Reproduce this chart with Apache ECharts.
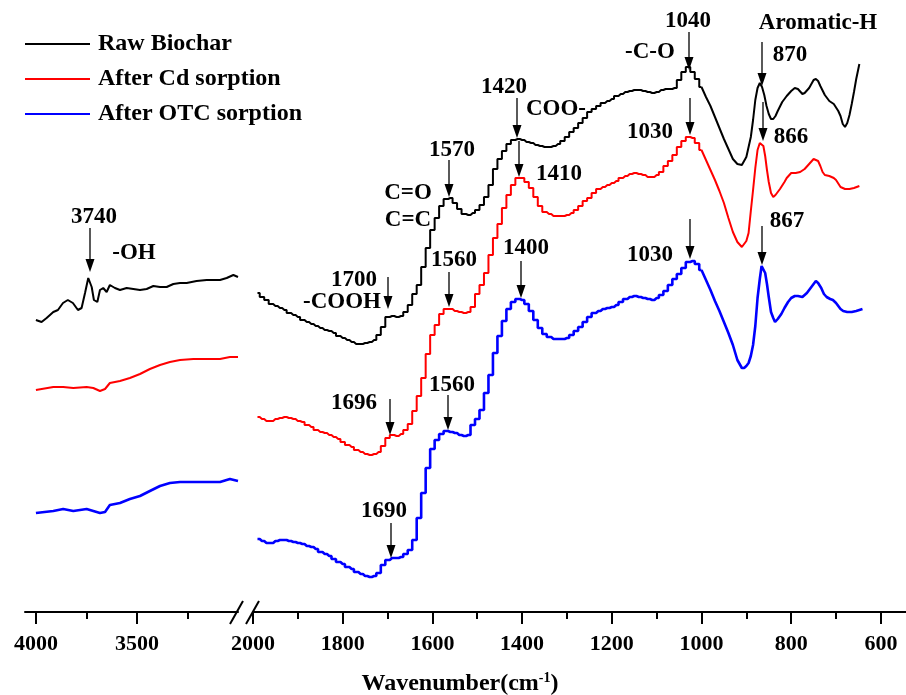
<!DOCTYPE html>
<html>
<head>
<meta charset="utf-8">
<script src="https://cdn.jsdelivr.net/npm/echarts@6/dist/echarts.min.js"></script>
<style>
html,body{margin:0;padding:0;background:#fff;}
#chart{width:906px;height:695px;}
</style>
</head>
<body>
<div id="chart"></div>
<script>
// ---------- DATA (transmittance, arbitrary units, offset spectra) ----------
const seriesNames = ['Raw Biochar', 'After Cd sorption', 'After OTC sorption'];

// 4000-3000 cm-1 segment
const wnLeftRaw = [4000,3972,3947,3914,3891,3866,3842,3817,3792,3774,3757,3741,3724,3713,3696,3683,3667,3650,3634,3609,3584,3551,3518,3485,3452,3419,3386,3353,3320,3287,3254,3205,3155,3089,3056,3023,3000];
const rawLeft = [2.92,2.90,2.94,3.00,3.02,3.09,3.12,3.09,3.02,3.04,3.19,3.34,3.25,3.12,3.10,3.22,3.24,3.20,3.27,3.24,3.22,3.24,3.23,3.22,3.23,3.26,3.25,3.25,3.28,3.29,3.29,3.31,3.32,3.32,3.34,3.37,3.35];
const wnLeft = [4000,3914,3865,3815,3749,3716,3683,3658,3634,3584,3535,3485,3436,3386,3337,3287,3221,3155,3089,3040,3000];
const cdLeft = [2.22,2.25,2.25,2.24,2.25,2.24,2.21,2.23,2.29,2.31,2.34,2.38,2.43,2.47,2.50,2.52,2.53,2.53,2.53,2.55,2.55];
const otcLeft = [0.99,1.01,1.03,1.01,1.03,1.01,0.99,1.00,1.07,1.09,1.13,1.16,1.21,1.26,1.29,1.30,1.30,1.30,1.30,1.33,1.31];

// 2000-1000 cm-1 segment (stepped, 10 cm-1 resolution)
const wnStep = [1990,1980,1970,1960,1950,1940,1930,1920,1910,1900,
  1890,1880,1870,1860,1850,1840,1830,1820,1810,1800,
  1790,1780,1770,1760,1750,1740,1730,1720,1710,1700,
  1690,1680,1670,1660,1650,1640,1630,1620,1610,1600,
  1590,1580,1570,1560,1550,1540,1530,1520,1510,1500,
  1490,1480,1470,1460,1450,1440,1430,1420,1410,1400,
  1390,1380,1370,1360,1350,1340,1330,1320,1310,1300,
  1290,1280,1270,1260,1250,1240,1230,1220,1210,1200,
  1190,1180,1170,1160,1150,1140,1130,1120,1110,1100,
  1090,1080,1070,1060,1050,1040,1030,1020,1010,1000];
const rawStep = [3.19,3.15,3.12,3.08,3.06,3.04,3.02,2.99,2.97,2.95,
  2.92,2.90,2.88,2.86,2.84,2.82,2.81,2.79,2.76,2.74,
  2.72,2.70,2.68,2.68,2.69,2.70,2.72,2.77,2.85,2.95,
  2.96,2.95,2.96,3.00,3.07,3.18,3.27,3.45,3.64,3.82,
  3.94,4.06,4.13,4.14,4.09,4.03,3.98,3.97,3.99,4.02,
  4.07,4.15,4.27,4.43,4.53,4.61,4.68,4.72,4.73,4.72,
  4.70,4.69,4.67,4.66,4.65,4.65,4.66,4.68,4.71,4.75,
  4.80,4.84,4.89,4.94,5.00,5.03,5.06,5.09,5.11,5.13,
  5.16,5.18,5.20,5.21,5.22,5.22,5.21,5.20,5.19,5.20,
  5.22,5.23,5.23,5.24,5.32,5.40,5.45,5.40,5.33,5.25];
const cdStep = [1.95,1.93,1.91,1.91,1.93,1.94,1.95,1.94,1.93,1.91,
  1.90,1.87,1.85,1.82,1.80,1.79,1.77,1.75,1.73,1.70,
  1.67,1.65,1.62,1.60,1.58,1.57,1.58,1.60,1.66,1.74,
  1.77,1.76,1.78,1.82,1.88,2.01,2.16,2.34,2.58,2.77,
  2.87,2.98,3.03,3.03,3.01,3.00,2.99,3.00,3.05,3.18,
  3.27,3.39,3.57,3.74,3.88,4.04,4.17,4.27,4.34,4.34,
  4.30,4.24,4.15,4.06,4.00,3.98,3.96,3.96,3.96,3.97,
  3.99,4.02,4.06,4.11,4.14,4.19,4.23,4.25,4.27,4.29,
  4.31,4.34,4.36,4.38,4.39,4.38,4.37,4.35,4.35,4.37,
  4.40,4.46,4.51,4.57,4.65,4.71,4.75,4.74,4.69,4.62];
const otcStep = [0.73,0.71,0.69,0.69,0.71,0.72,0.72,0.71,0.70,0.69,
  0.68,0.66,0.65,0.63,0.60,0.58,0.56,0.53,0.50,0.48,
  0.45,0.43,0.40,0.38,0.36,0.35,0.36,0.39,0.47,0.52,
  0.54,0.54,0.55,0.58,0.62,0.72,0.94,1.19,1.44,1.63,
  1.72,1.78,1.81,1.80,1.79,1.77,1.76,1.77,1.87,1.93,
  2.02,2.19,2.37,2.59,2.76,2.91,3.03,3.10,3.13,3.12,
  3.08,3.01,2.92,2.84,2.78,2.75,2.73,2.73,2.73,2.74,
  2.77,2.81,2.85,2.90,2.95,2.99,3.01,3.03,3.04,3.05,
  3.07,3.10,3.13,3.15,3.16,3.15,3.14,3.13,3.12,3.14,
  3.17,3.21,3.27,3.33,3.38,3.44,3.50,3.51,3.48,3.42];

// 1000-640 cm-1 segment (smooth)
const wnRawTail = [1000,990,980,970,960,950,940,930,920,910,900,890,885,880,875,870,865,860,855,850,845,840,835,830,820,810,800,792,785,775,770,760,750,745,740,735,725,715,705,695,690,685,680,675,670,665,660,655,648];
const rawTail = [5.25,5.15,5.06,4.95,4.84,4.73,4.63,4.53,4.48,4.47,4.55,4.75,4.92,5.12,5.24,5.29,5.25,5.17,5.06,4.98,4.93,4.93,4.96,5.01,5.10,5.16,5.21,5.24,5.23,5.18,5.19,5.24,5.32,5.33,5.31,5.26,5.17,5.11,5.08,5.01,4.96,4.88,4.85,4.89,4.97,5.08,5.20,5.33,5.48];
const wnCdTail = [1000,990,980,970,960,950,940,930,920,910,900,895,890,885,880,875,870,866,862,858,854,850,845,840,835,830,825,815,810,800,790,780,770,760,750,747,740,735,730,725,715,705,700,690,680,670,660,648];
const cdTail = [4.62,4.52,4.42,4.32,4.21,4.09,3.94,3.80,3.70,3.65,3.71,3.79,4.01,4.22,4.44,4.62,4.69,4.71,4.66,4.56,4.42,4.30,4.19,4.15,4.17,4.20,4.23,4.30,4.34,4.39,4.39,4.40,4.43,4.48,4.53,4.54,4.51,4.46,4.40,4.37,4.36,4.34,4.32,4.25,4.23,4.23,4.24,4.26];
const wnOtcTail = [1000,990,980,970,960,950,940,930,920,910,905,900,895,890,885,880,875,870,866,862,858,854,850,845,840,836,830,822,815,807,800,792,785,775,765,755,745,740,733,727,721,713,707,700,695,690,684,675,665,655,641];
const otcTail = [3.42,3.32,3.22,3.11,3.01,2.90,2.79,2.67,2.52,2.44,2.44,2.46,2.49,2.56,2.67,2.86,3.14,3.33,3.46,3.48,3.39,3.28,3.15,3.00,2.94,2.90,2.93,2.98,3.04,3.10,3.14,3.16,3.16,3.15,3.19,3.25,3.31,3.29,3.24,3.18,3.15,3.13,3.12,3.09,3.06,3.03,3.01,3.00,3.00,3.01,3.03];

// Tick labels
const leftMajorTicks = [4000, 3500];
const leftMinorTicks = [3750, 3250];
const rightMajorTicks = [2000, 1800, 1600, 1400, 1200, 1000, 800, 600];
const rightMinorTicks = [1900, 1700, 1500, 1300, 1100, 900, 700];

// ---------- CHART ----------
const FONT = "'Liberation Serif','Times New Roman',serif";
const colors = ['#000000', '#ff0000', '#0000ff'];
const widths = [2, 2, 2.6];
const zip = (xs, ys) => xs.map((x, i) => [x, ys[i]]);

function mkSeries(idx, xAxisIndex, yAxisIndex, data, step) {
  return {
    name: seriesNames[idx], type: 'line', xAxisIndex, yAxisIndex, data,
    step: step ? 'middle' : false, smooth: false,
    showSymbol: false, symbol: 'none',
    lineStyle: { color: colors[idx], width: widths[idx] },
    itemStyle: { color: colors[idx] },
    silent: true, animation: false, clip: false
  };
}

const baseAxis = {
  type: 'value', inverse: true, position: 'bottom', offset: 0,
  splitLine: { show: false }
};
function majorAxis(grid, min, max, ticks) {
  return Object.assign({}, baseAxis, {
    gridIndex: grid, min, max,
    axisLine: { show: true, onZero: false, lineStyle: { color: '#000', width: 2 } },
    axisTick: { show: true, inside: false, length: 12, customValues: ticks, lineStyle: { color: '#000', width: 2 } },
    axisLabel: { show: true, customValues: ticks, margin: 21, color: '#000', fontFamily: FONT, fontWeight: 'bold', fontSize: 22,
      formatter: v => String(v) }
  });
}
function minorAxis(grid, min, max, ticks) {
  return Object.assign({}, baseAxis, {
    gridIndex: grid, min, max,
    axisLine: { show: false, onZero: false },
    axisTick: { show: true, inside: false, length: 7, customValues: ticks, lineStyle: { color: '#000', width: 2 } },
    axisLabel: { show: false }
  });
}

const annFont = "bold 23px " + FONT;
const texts = [
  ['3740', 94, 217], ['-OH', 134, 253],
  ['1040', 688, 21], ['-C-O', 650, 52], ['Aromatic-H', 818, 23], ['870', 790, 55],
  ['1420', 504, 87], ['COO-', 556, 109], ['1570', 452, 150], ['C=O', 408, 193], ['C=C', 408, 220],
  ['1700', 354, 280], ['-COOH', 342, 302], ['1560', 454, 260], ['1410', 559, 174],
  ['1030', 650, 132], ['866', 791, 137], ['1400', 526, 248], ['1030', 650, 255], ['867', 787, 221],
  ['1696', 354, 403], ['1560', 452, 385], ['1690', 384, 511]
];
const arrows = [
  [90, 228, 272], [689, 32, 70], [762, 42, 86], [517, 98, 138], [449, 160, 197],
  [388, 277, 309], [449, 272, 307], [519, 141, 177], [690, 98, 135], [763, 102, 141],
  [521, 261, 298], [690, 219, 259], [762, 226, 265], [390, 399, 435], [448, 395, 430], [391, 523, 558]
];
const graphics = [];
texts.forEach(t => graphics.push({
  type: 'text', x: t[1], y: t[2], z: 100,
  style: { text: t[0], font: annFont, fill: '#000', align: 'center', verticalAlign: 'middle' }
}));
arrows.forEach(a => {
  graphics.push({ type: 'line', z: 100, shape: { x1: a[0], y1: a[1], x2: a[0], y2: a[2] - 10 }, style: { stroke: '#000', lineWidth: 1.3 } });
  graphics.push({ type: 'polygon', z: 100, shape: { points: [[a[0] - 4.5, a[2] - 13], [a[0] + 4.5, a[2] - 13], [a[0], a[2]]] }, style: { fill: '#000' } });
});
// axis break marks
graphics.push({ type: 'line', z: 100, shape: { x1: 230, y1: 624, x2: 243, y2: 601 }, style: { stroke: '#000', lineWidth: 2 } });
graphics.push({ type: 'line', z: 100, shape: { x1: 246, y1: 624, x2: 259, y2: 601 }, style: { stroke: '#000', lineWidth: 2 } });
// axis title
graphics.push({
  type: 'text', x: 460, y: 684, z: 100,
  style: {
    text: '{a|Wavenumber(cm}{s|-1}{a|)}', align: 'center', verticalAlign: 'middle',
    rich: {
      a: { fontFamily: FONT, fontWeight: 'bold', fontSize: 24, lineHeight: 26, fill: '#000' },
      s: { fontFamily: FONT, fontWeight: 'bold', fontSize: 14, lineHeight: 26, verticalAlign: 'top', fill: '#000' }
    }
  }
});

const chart = echarts.init(document.getElementById('chart'), null, { renderer: 'canvas' });
chart.setOption({
  animation: false,
  backgroundColor: '#fff',
  legend: {
    data: seriesNames.map(n => ({ name: n, icon: 'rect' })),
    orient: 'vertical', left: 25, top: 32, padding: 0,
    itemWidth: 65, itemHeight: 2, itemGap: 11,
    textStyle: { fontFamily: FONT, fontWeight: 'bold', fontSize: 24, color: '#000', lineHeight: 24, padding: [0, 0, 0, 3] },
    selectedMode: false
  },
  grid: [
    { left: 25, width: 213, top: 0, height: 612, outerBoundsMode: 'none', containLabel: false },
    { left: 253, width: 653, top: 0, height: 612, outerBoundsMode: 'none', containLabel: false }
  ],
  xAxis: [
    majorAxis(0, 3000, 4054, leftMajorTicks),
    minorAxis(0, 3000, 4054, leftMinorTicks),
    majorAxis(1, 544, 2000, rightMajorTicks),
    minorAxis(1, 544, 2000, rightMinorTicks)
  ],
  yAxis: [
    { gridIndex: 0, type: 'value', min: 0, max: 6.12, show: false },
    { gridIndex: 1, type: 'value', min: 0, max: 6.12, show: false }
  ],
  series: [
    mkSeries(0, 0, 0, zip(wnLeftRaw, rawLeft), false),
    mkSeries(1, 0, 0, zip(wnLeft, cdLeft), false),
    mkSeries(2, 0, 0, zip(wnLeft, otcLeft), false),
    mkSeries(0, 2, 1, zip(wnStep, rawStep), true),
    mkSeries(1, 2, 1, zip(wnStep, cdStep), true),
    mkSeries(2, 2, 1, zip(wnStep, otcStep), true),
    mkSeries(0, 2, 1, zip(wnRawTail, rawTail), false),
    mkSeries(1, 2, 1, zip(wnCdTail, cdTail), false),
    mkSeries(2, 2, 1, zip(wnOtcTail, otcTail), false)
  ],
  graphic: graphics
});
</script>
</body>
</html>
